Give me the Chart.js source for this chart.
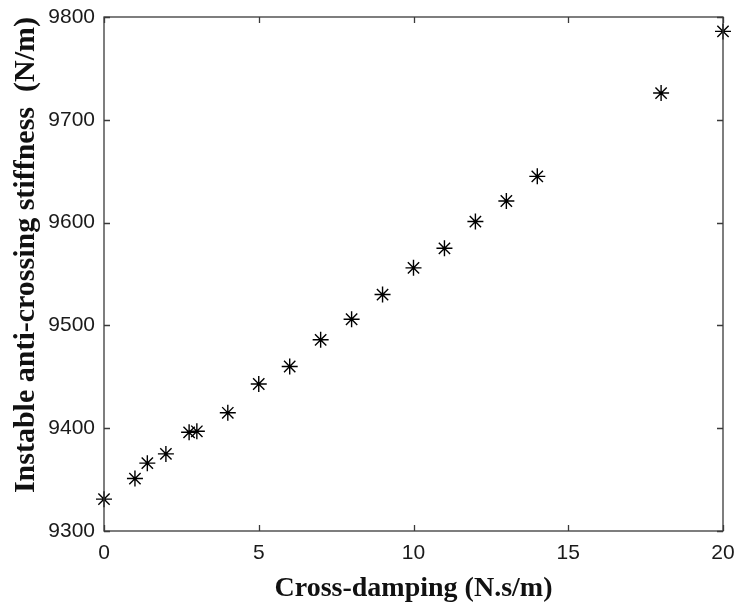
<!DOCTYPE html>
<html>
<head>
<meta charset="utf-8">
<script src="https://cdn.jsdelivr.net/npm/chart.js@4"></script>
<style>
  html, body { margin: 0; padding: 0; background: #fff; }
  #wrap { width: 738px; height: 606px; }
</style>
</head>
<body>
<div id="wrap"><canvas id="stiffChart" width="738" height="606"></canvas></div>
<script>
// cross-damping (N.s/m) and instable anti-crossing stiffness (N/m)
const damping = [0, 1, 1.4, 2, 2.75, 3, 4, 5, 6, 7, 8, 9, 10, 11, 12, 13, 14, 18, 20];
const stiffness = [9331, 9351, 9366, 9375, 9396, 9397, 9415, 9443, 9460, 9486, 9506, 9530, 9556, 9575, 9601, 9621, 9645, 9726, 9786];

const xTicks = [0, 5, 10, 15, 20];
const yTicks = [9300, 9400, 9500, 9600, 9700, 9800];

const points = damping.map((d, i) => ({ x: d, y: stiffness[i] }));

// matlab style box with inward ticks on all four sides
const boxTicks = {
  id: 'boxTicks',
  afterDraw(chart) {
    const { ctx, chartArea: a, scales } = chart;
    ctx.save();
    ctx.strokeStyle = '#3a3a3a';
    ctx.lineWidth = 1.3;
    ctx.strokeRect(a.left, a.top, a.right - a.left, a.bottom - a.top);
    const len = 6;
    ctx.beginPath();
    xTicks.forEach(v => {
      const px = Math.round(scales.x.getPixelForValue(v)) + 0.5;
      ctx.moveTo(px, a.bottom); ctx.lineTo(px, a.bottom - len);
      ctx.moveTo(px, a.top); ctx.lineTo(px, a.top + len);
    });
    yTicks.forEach(v => {
      const py = Math.round(scales.y.getPixelForValue(v)) + 0.5;
      ctx.moveTo(a.left, py); ctx.lineTo(a.left + len, py);
      ctx.moveTo(a.right, py); ctx.lineTo(a.right - len, py);
    });
    ctx.stroke();
    ctx.restore();
  }
};

new Chart(document.getElementById('stiffChart'), {
  type: 'scatter',
  data: {
    datasets: [{
      data: points,
      clip: false,
      pointStyle: 'star',
      pointRadius: 8,
      pointBorderWidth: 1.4,
      borderColor: '#000',
      backgroundColor: '#000'
    }]
  },
  options: {
    responsive: false,
    animation: false,
    layout: { padding: { top: 17, right: 15, left: 0, bottom: 0 } },
    plugins: {
      legend: { display: false },
      tooltip: { enabled: false }
    },
    scales: {
      x: {
        type: 'linear',
        min: 0,
        max: 20,
        grid: { display: false, drawTicks: false },
        border: { display: false },
        afterBuildTicks: s => { s.ticks = xTicks.map(v => ({ value: v })); },
        afterFit: s => { s.height = 75; s.paddingLeft = 0; s.paddingRight = 0; },
        ticks: {
          color: '#1a1a1a',
          padding: 10,
          callback: v => String(v),
          font: { family: 'Liberation Sans', size: 21 }
        },
        title: {
          display: true,
          text: 'Cross-damping (N.s/m)',
          color: '#111',
          padding: { top: 0, bottom: 0 },
          font: { family: 'Liberation Serif', size: 28, weight: 'bold' }
        }
      },
      y: {
        type: 'linear',
        min: 9300,
        max: 9800,
        grid: { display: false, drawTicks: false },
        border: { display: false },
        afterBuildTicks: s => { s.ticks = yTicks.map(v => ({ value: v })); },
        afterFit: s => { s.width = 104; s.paddingTop = 0; s.paddingBottom = 0; },
        ticks: {
          color: '#1a1a1a',
          padding: 9,
          callback: v => String(v),
          font: { family: 'Liberation Sans', size: 21 }
        },
        title: {
          display: true,
          align: 'end',
          text: 'Instable anti-crossing stiffness  (N/m)',
          color: '#111',
          padding: { top: 8, bottom: 0 },
          font: { family: 'Liberation Serif', size: 30, weight: 'bold' }
        }
      }
    }
  },
  plugins: [boxTicks]
});
</script>
</body>
</html>
